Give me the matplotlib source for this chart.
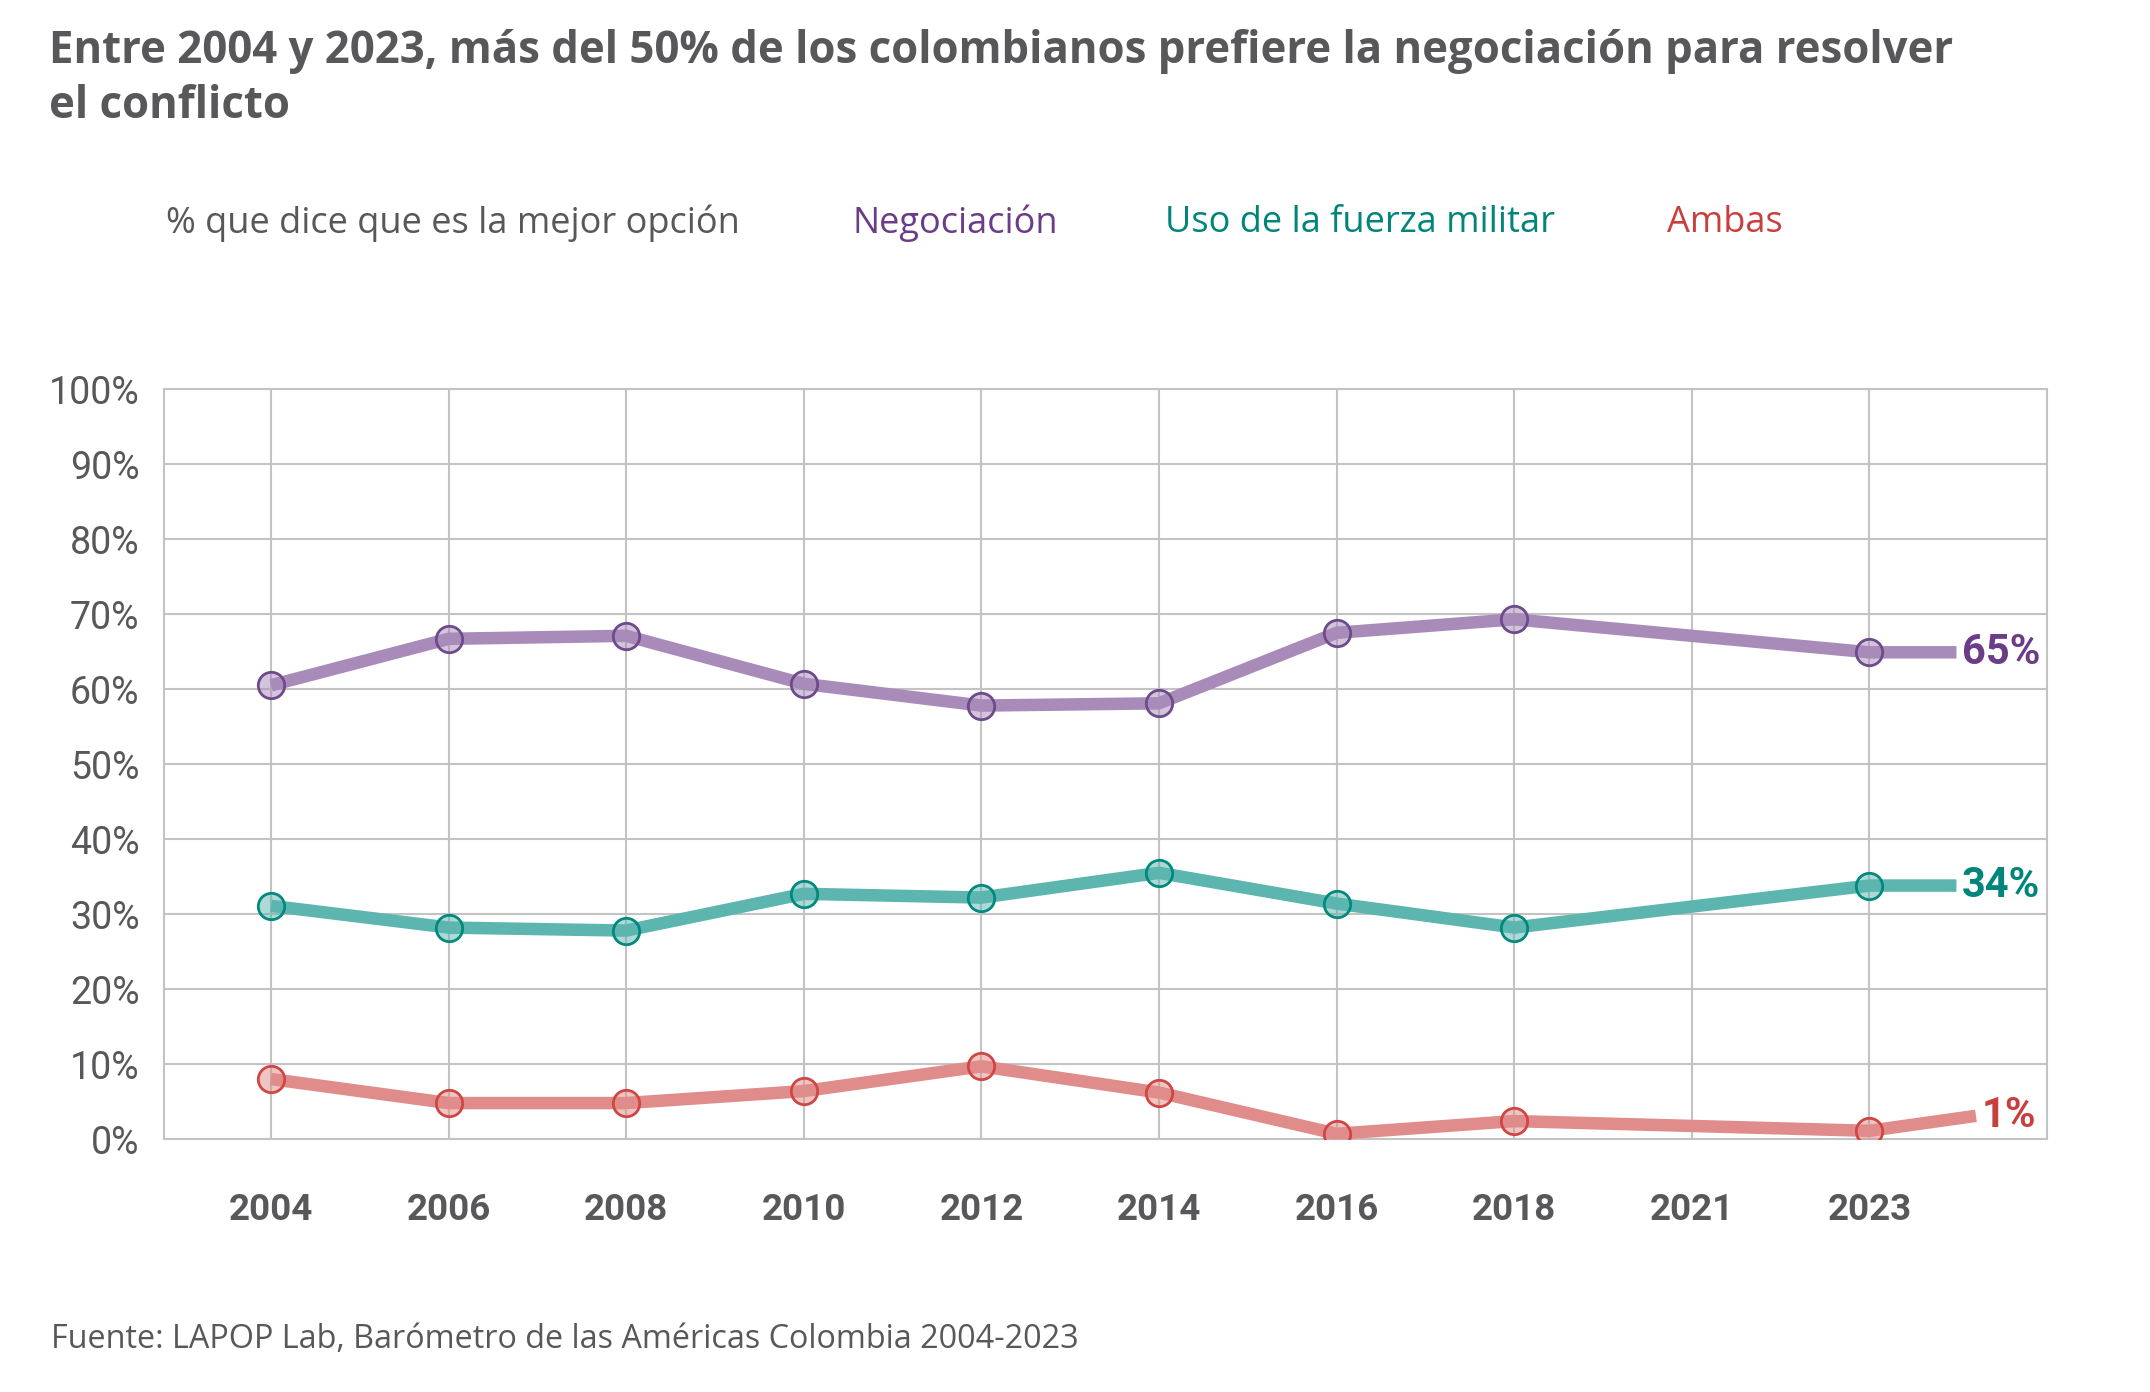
import numpy as np
import matplotlib
matplotlib.use('Agg')
import matplotlib.pyplot as plt
from matplotlib.ticker import FuncFormatter

# data (percent)
years = ['2004', '2006', '2008', '2010', '2012', '2014', '2016', '2018', '2021', '2023']
negociacion = [60.5, 66.7, 67.1, 60.7, 57.8, 58.1, 67.5, 69.3, np.nan, 64.9]
fuerza = [31.1, 28.2, 27.8, 32.7, 32.2, 35.5, 31.4, 28.2, np.nan, 33.8]
ambas = [8.0, 4.8, 4.8, 6.4, 9.7, 6.2, 0.7, 2.4, np.nan, 1.1]
end_values = [64.9, 33.8, 3.1]
end_labels = ['65%', '34%', '1%']
series_names = ['Negociación', 'Uso de la fuerza militar', 'Ambas']

line_colors = ['#a88bb9', '#5cb5af', '#e08c8a']
edge_colors = ['#6d4a8c', '#00897d', '#cf4644']
text_colors = ['#6b3d88', '#00857a', '#c8403d']
gray = '#58585b'

fig = plt.figure(figsize=(21.5, 13.92), dpi=100)
ax = fig.add_axes([0.0765, 0.1817, 0.8756, 0.5388])

x = np.arange(len(years))
end_x = [9.49, 9.49, 9.6]
for i, vals in enumerate([negociacion, fuerza, ambas]):
    v = np.array(vals)
    ok = ~np.isnan(v)
    xs = list(x[ok]) + [end_x[i]]
    ys = list(v[ok]) + [end_values[i]]
    ax.plot(xs, ys, color=line_colors[i], lw=9, solid_capstyle='butt', zorder=3)
    ax.plot(x[ok], v[ok], ls='none', marker='o', markersize=19,
            markerfacecolor=line_colors[i] + '80', markeredgecolor=edge_colors[i],
            markeredgewidth=2, zorder=4)
    ax.text(end_x[i] + 0.03, end_values[i], end_labels[i], color=text_colors[i],
            fontsize=30, fontweight='bold', family='Roboto', va='center', ha='left', zorder=5)

ax.set_xlim(-0.6, 10.0)
ax.set_ylim(0, 100)
ax.set_xticks(x)
ax.set_xticklabels(years)
ax.set_yticks(np.arange(0, 101, 10))
ax.yaxis.set_major_formatter(FuncFormatter(lambda v, p: f'{v:.0f}%'))
ax.grid(True, color='#c3c3c3', lw=1.5)
ax.set_axisbelow(True)
for s in ax.spines.values():
    s.set_color('#c3c3c3')
    s.set_linewidth(1.5)
ax.tick_params(axis='both', length=0)
ax.tick_params(axis='x', pad=38, labelsize=26.5, labelcolor=gray)
ax.tick_params(axis='y', pad=18, labelsize=27, labelcolor=gray)
for t in ax.get_xticklabels():
    t.set_fontweight('bold')
    t.set_family('Roboto')
for t in ax.get_yticklabels():
    t.set_family('Roboto')

fig.text(0.0229, 0.979, 'Entre 2004 y 2023, más del 50% de los colombianos prefiere la negociación para resolver\nel conflicto',
         fontsize=31.5, fontweight='bold', color=gray, family='Open Sans', va='top', ha='left', linespacing=1.3)

fig.text(166 / 2150, 0.8395, '% que dice que es la mejor opción', fontsize=26, color=gray,
         family='Open Sans', va='center', ha='left')
leg_x = [853, 1165, 1667]
for i, name in enumerate(series_names):
    fig.text(leg_x[i] / 2150, 0.8395, name, fontsize=26, color=text_colors[i],
             family='Open Sans', va='center', ha='left')

fig.text(51 / 2150, 0.0375, 'Fuente: LAPOP Lab, Barómetro de las Américas Colombia 2004-2023',
         fontsize=23.3, color=gray, family='Open Sans', va='center', ha='left')

fig.savefig('out.png', dpi=100, facecolor='white')
